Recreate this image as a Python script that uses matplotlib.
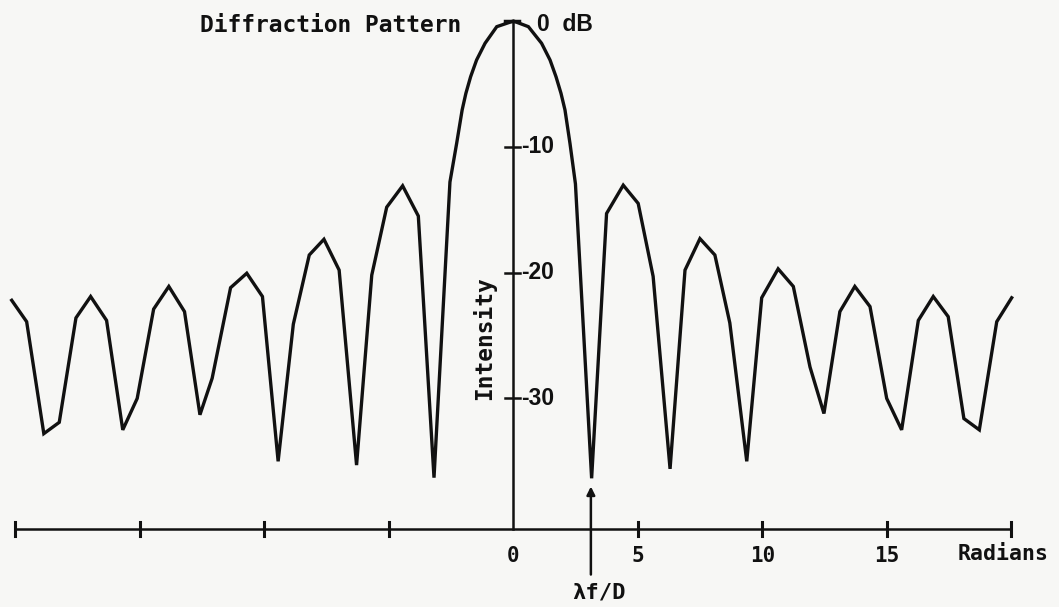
import numpy as np
import matplotlib.pyplot as plt

# curve vertices (radians, dB)
x_rad = [-20.15, -19.55, -18.86, -18.24, -17.57, -16.98, -16.34, -15.69, -15.11,
         -14.45, -13.84, -13.21, -12.59, -12.10, -11.36, -10.71, -10.08, -9.45,
         -8.84, -8.20, -7.61, -7.00, -6.30, -5.69, -5.09, -4.45, -3.82, -3.19,
         -2.55, -2.28, -2.06, -1.91, -1.72, -1.48, -1.14, -0.67, 0.0,
         0.60, 1.13, 1.47, 1.71, 1.91, 2.07, 2.27, 2.49, 3.14,
         3.74, 4.41, 5.01, 5.61, 6.29, 6.89, 7.49, 8.09, 8.69, 9.37,
         9.97, 10.63, 11.24, 11.91, 12.47, 13.11, 13.71, 14.32, 14.99, 15.59,
         16.26, 16.86, 17.46, 18.09, 18.71, 19.41, 20.01]
intensity_db = [-22.2, -23.9, -32.8, -31.9, -23.6, -21.9, -23.8, -32.5, -30.0,
                -22.9, -21.1, -23.1, -31.3, -28.4, -21.2, -20.05, -21.9, -35.0,
                -24.1, -18.6, -17.35, -19.8, -35.3, -20.2, -14.8, -13.1, -15.5, -36.3,
                -12.8, -9.72, -7.07, -5.75, -4.43, -3.10, -1.77, -0.45, 0.0,
                -0.45, -1.77, -3.10, -4.43, -5.75, -7.07, -9.72, -12.95, -36.35,
                -15.3, -13.05, -14.5, -20.3, -35.6, -19.8, -17.3, -18.6, -24.0, -35.0,
                -22.0, -19.7, -21.1, -27.5, -31.2, -23.1, -21.1, -22.7, -30.0, -32.5,
                -23.8, -21.9, -23.5, -31.6, -32.5, -23.9, -22.0]

x_ticks = [-20, -15, -10, -5, 5, 10, 15, 20]
x_labels = {0: '0', 5: '5', 10: '10', 15: '15'}
y_ticks = [-10, -20, -30]
axis_db = -40.4
lam_f_d = 3.11

ink = '#111111'
mono = 'DejaVu Sans Mono'
sans = 'Liberation Sans'

fig = plt.figure(figsize=(10.59, 6.07), dpi=100)
fig.patch.set_facecolor('#f7f7f5')
ax = fig.add_axes([0, 0, 1, 1])
ax.set_facecolor('#f7f7f5')
ax.set_xlim(-20.62, 21.91)
ax.set_ylim(-46.58, 1.67)
ax.axis('off')

# pattern
ax.plot(x_rad, intensity_db, color=ink, lw=2.4, solid_joinstyle='miter')

# horizontal axis
ax.plot([-20, 20], [axis_db, axis_db], color=ink, lw=1.8)
for t in x_ticks:
    ax.plot([t, t], [axis_db - 0.55, axis_db + 0.55], color=ink, lw=2.2)
for v, s in x_labels.items():
    ax.text(v, -42.5, s, fontsize=15, family=mono, weight='bold', color=ink,
            ha='center', va='center')
ax.text(19.66, -42.4, 'Radians', fontsize=15.5, family=mono, weight='bold',
        color=ink, ha='center', va='center')

# vertical axis
ax.plot([0, 0], [axis_db, 0], color=ink, lw=1.8)
ax.plot([-0.34, 0.22], [0, 0], color=ink, lw=2.5)
for t in y_ticks:
    ax.plot([-0.34, 0.26], [t, t], color=ink, lw=1.8)
    ax.text(0.3, t, str(t), fontsize=16.5, family=sans, weight='bold', color=ink,
            ha='left', va='center')
ax.text(0.94, -0.3, '0  dB', fontsize=16.5, family=sans, weight='bold', color=ink,
        ha='left', va='center')

ax.text(-2.11, -0.35, 'Diffraction Pattern', fontsize=16.5, family=mono,
        weight='bold', color=ink, ha='right', va='center')
ax.text(-1.18, -25.2, 'Intensity', fontsize=16.5, family=mono, weight='bold',
        color=ink, rotation=90, ha='center', va='center')

# lambda f / D marker
ax.annotate('', xy=(lam_f_d, -37.0), xytext=(lam_f_d, -44.0),
            arrowprops=dict(arrowstyle='-|>', color=ink, lw=1.8,
                            mutation_scale=12, shrinkA=0, shrinkB=0))
ax.text(3.43, -45.4, 'λf/D', fontsize=16, family=mono, weight='bold', color=ink,
        ha='center', va='center')

fig.savefig('out.png', dpi=100, facecolor=fig.get_facecolor())
